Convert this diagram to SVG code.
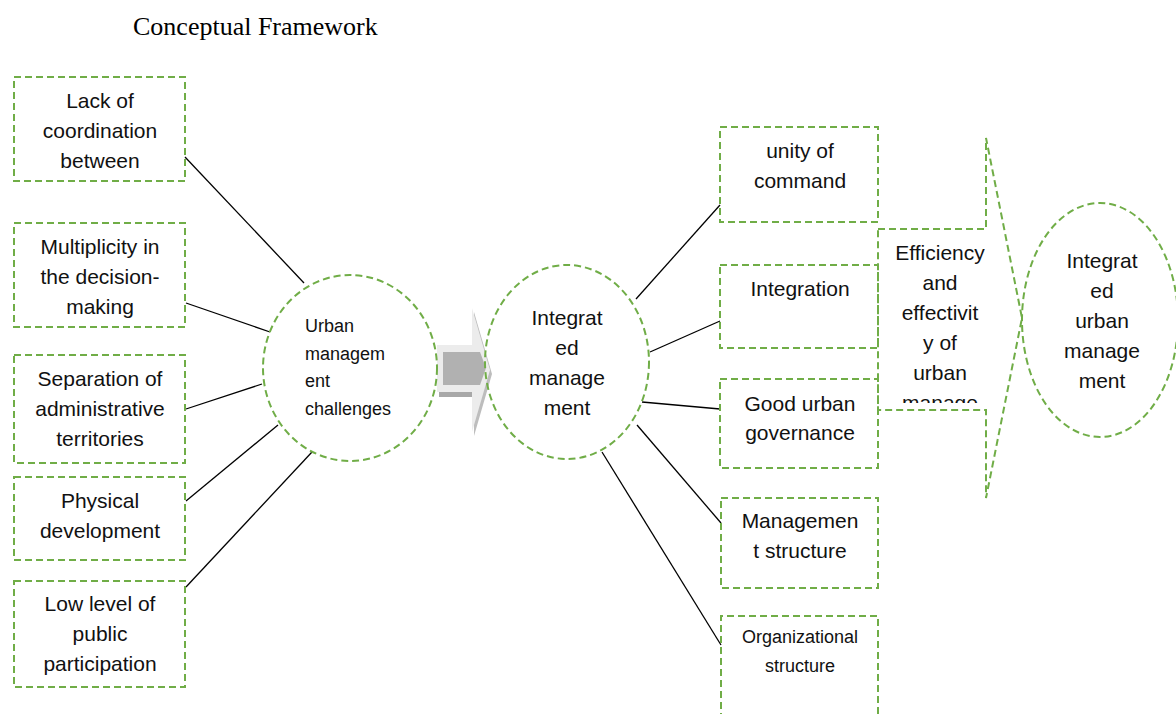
<svg xmlns="http://www.w3.org/2000/svg" width="1176" height="714" viewBox="0 0 1176 714">
<defs>
<style>
.n{fill:none;stroke:#70AD47;stroke-width:2;stroke-dasharray:7 4}
.t{font-family:"Liberation Sans",Arial,sans-serif;font-size:21px;fill:#111;text-anchor:middle}
.s{font-size:18px}
.l{text-anchor:start}
.c line{stroke:#000;stroke-width:1.3}
</style>
<clipPath id="effclip"><rect x="880" y="230" width="105" height="173"/></clipPath>
</defs>
<rect width="1176" height="714" fill="#fff"/>
<text x="133" y="35" font-family="Liberation Serif,'Times New Roman',serif" font-size="26" fill="#000">Conceptual Framework</text>

<g id="connectors" class="c">
<line x1="185" y1="157" x2="304" y2="283"/>
<line x1="186" y1="303" x2="270" y2="332"/>
<line x1="186" y1="409" x2="262" y2="384"/>
<line x1="186" y1="501" x2="278" y2="425"/>
<line x1="186" y1="587" x2="312" y2="452"/>
<line x1="636" y1="299" x2="720" y2="205"/>
<line x1="650" y1="352" x2="720" y2="321"/>
<line x1="642" y1="402" x2="720" y2="409"/>
<line x1="637" y1="425" x2="721" y2="523"/>
<line x1="602" y1="452" x2="721" y2="645"/>
</g>

<g id="arrow">
<polygon points="439,349 474,349 474,312 492,374 474,436 474,397 439,397" fill="#bdbdbd"/>
<polygon points="437,345 472,345 472,308 490,370 472,432 472,392 437,392" fill="#ececec"/>
<rect x="439" y="392" width="33" height="5" fill="#a8a8a8"/>
<polygon points="443,352 480,352 486,368 480,385 443,385" fill="#b1b1b1"/>
</g>

<g id="box-lack">
<rect class="n" x="14" y="77" width="171" height="104"/>
<text class="t" x="100" y="108">Lack of</text>
<text class="t" x="100" y="138">coordination</text>
<text class="t" x="100" y="168">between</text>
</g>
<g id="box-multiplicity">
<rect class="n" x="14" y="223" width="171" height="104"/>
<text class="t" x="100" y="254">Multiplicity in</text>
<text class="t" x="100" y="284">the decision-</text>
<text class="t" x="100" y="314">making</text>
</g>
<g id="box-separation">
<rect class="n" x="14" y="355" width="171" height="108"/>
<text class="t" x="100" y="386">Separation of</text>
<text class="t" x="100" y="416">administrative</text>
<text class="t" x="100" y="446">territories</text>
</g>
<g id="box-physical">
<rect class="n" x="14" y="477" width="171" height="83"/>
<text class="t" x="100" y="508">Physical</text>
<text class="t" x="100" y="538">development</text>
</g>
<g id="box-low">
<rect class="n" x="14" y="581" width="171" height="106"/>
<text class="t" x="100" y="611">Low level of</text>
<text class="t" x="100" y="641">public</text>
<text class="t" x="100" y="671">participation</text>
</g>

<g id="circle-challenges">
<ellipse class="n" cx="350" cy="368" rx="87" ry="93"/>
<text class="t s l" x="305" y="332">Urban</text>
<text class="t s l" x="305" y="360">managem</text>
<text class="t s l" x="305" y="387">ent</text>
<text class="t s l" x="305" y="415">challenges</text>
</g>

<g id="circle-integrated">
<ellipse class="n" cx="567" cy="362" rx="82" ry="97"/>
<text class="t" x="567" y="325">Integrat</text>
<text class="t" x="567" y="355">ed</text>
<text class="t" x="567" y="385">manage</text>
<text class="t" x="567" y="415">ment</text>
</g>

<g id="box-unity">
<rect class="n" x="720" y="127" width="158" height="95"/>
<text class="t" x="800" y="158">unity of</text>
<text class="t" x="800" y="188">command</text>
</g>
<g id="box-integration">
<rect class="n" x="720" y="265" width="158" height="83"/>
<text class="t" x="800" y="296">Integration</text>
</g>
<g id="box-good">
<rect class="n" x="720" y="379" width="158" height="89"/>
<text class="t" x="800" y="411">Good urban</text>
<text class="t" x="800" y="440">governance</text>
</g>
<g id="box-management">
<rect class="n" x="721" y="498" width="157" height="90"/>
<text class="t" x="800" y="528">Managemen</text>
<text class="t" x="800" y="558">t structure</text>
</g>
<g id="box-organizational">
<path class="n" d="M721,720 V616 H878 V720"/>
<text class="t s" x="800" y="643">Organizational</text>
<text class="t s" x="800" y="672">structure</text>
</g>

<g id="arrow-efficiency">
<polygon class="n" points="878,229 986,229 986,138 1022,318 986,498 986,410 878,410"/>
<g clip-path="url(#effclip)">
<text class="t" x="940" y="260">Efficiency</text>
<text class="t" x="940" y="290">and</text>
<text class="t" x="940" y="320">effectivit</text>
<text class="t" x="940" y="350">y of</text>
<text class="t" x="940" y="380">urban</text>
<text class="t" x="940" y="410">manage</text>
</g>
</g>

<g id="circle-final">
<ellipse class="n" cx="1100" cy="320" rx="78" ry="117"/>
<text class="t" x="1102" y="268">Integrat</text>
<text class="t" x="1102" y="298">ed</text>
<text class="t" x="1102" y="328">urban</text>
<text class="t" x="1102" y="358">manage</text>
<text class="t" x="1102" y="388">ment</text>
</g>
</svg>
